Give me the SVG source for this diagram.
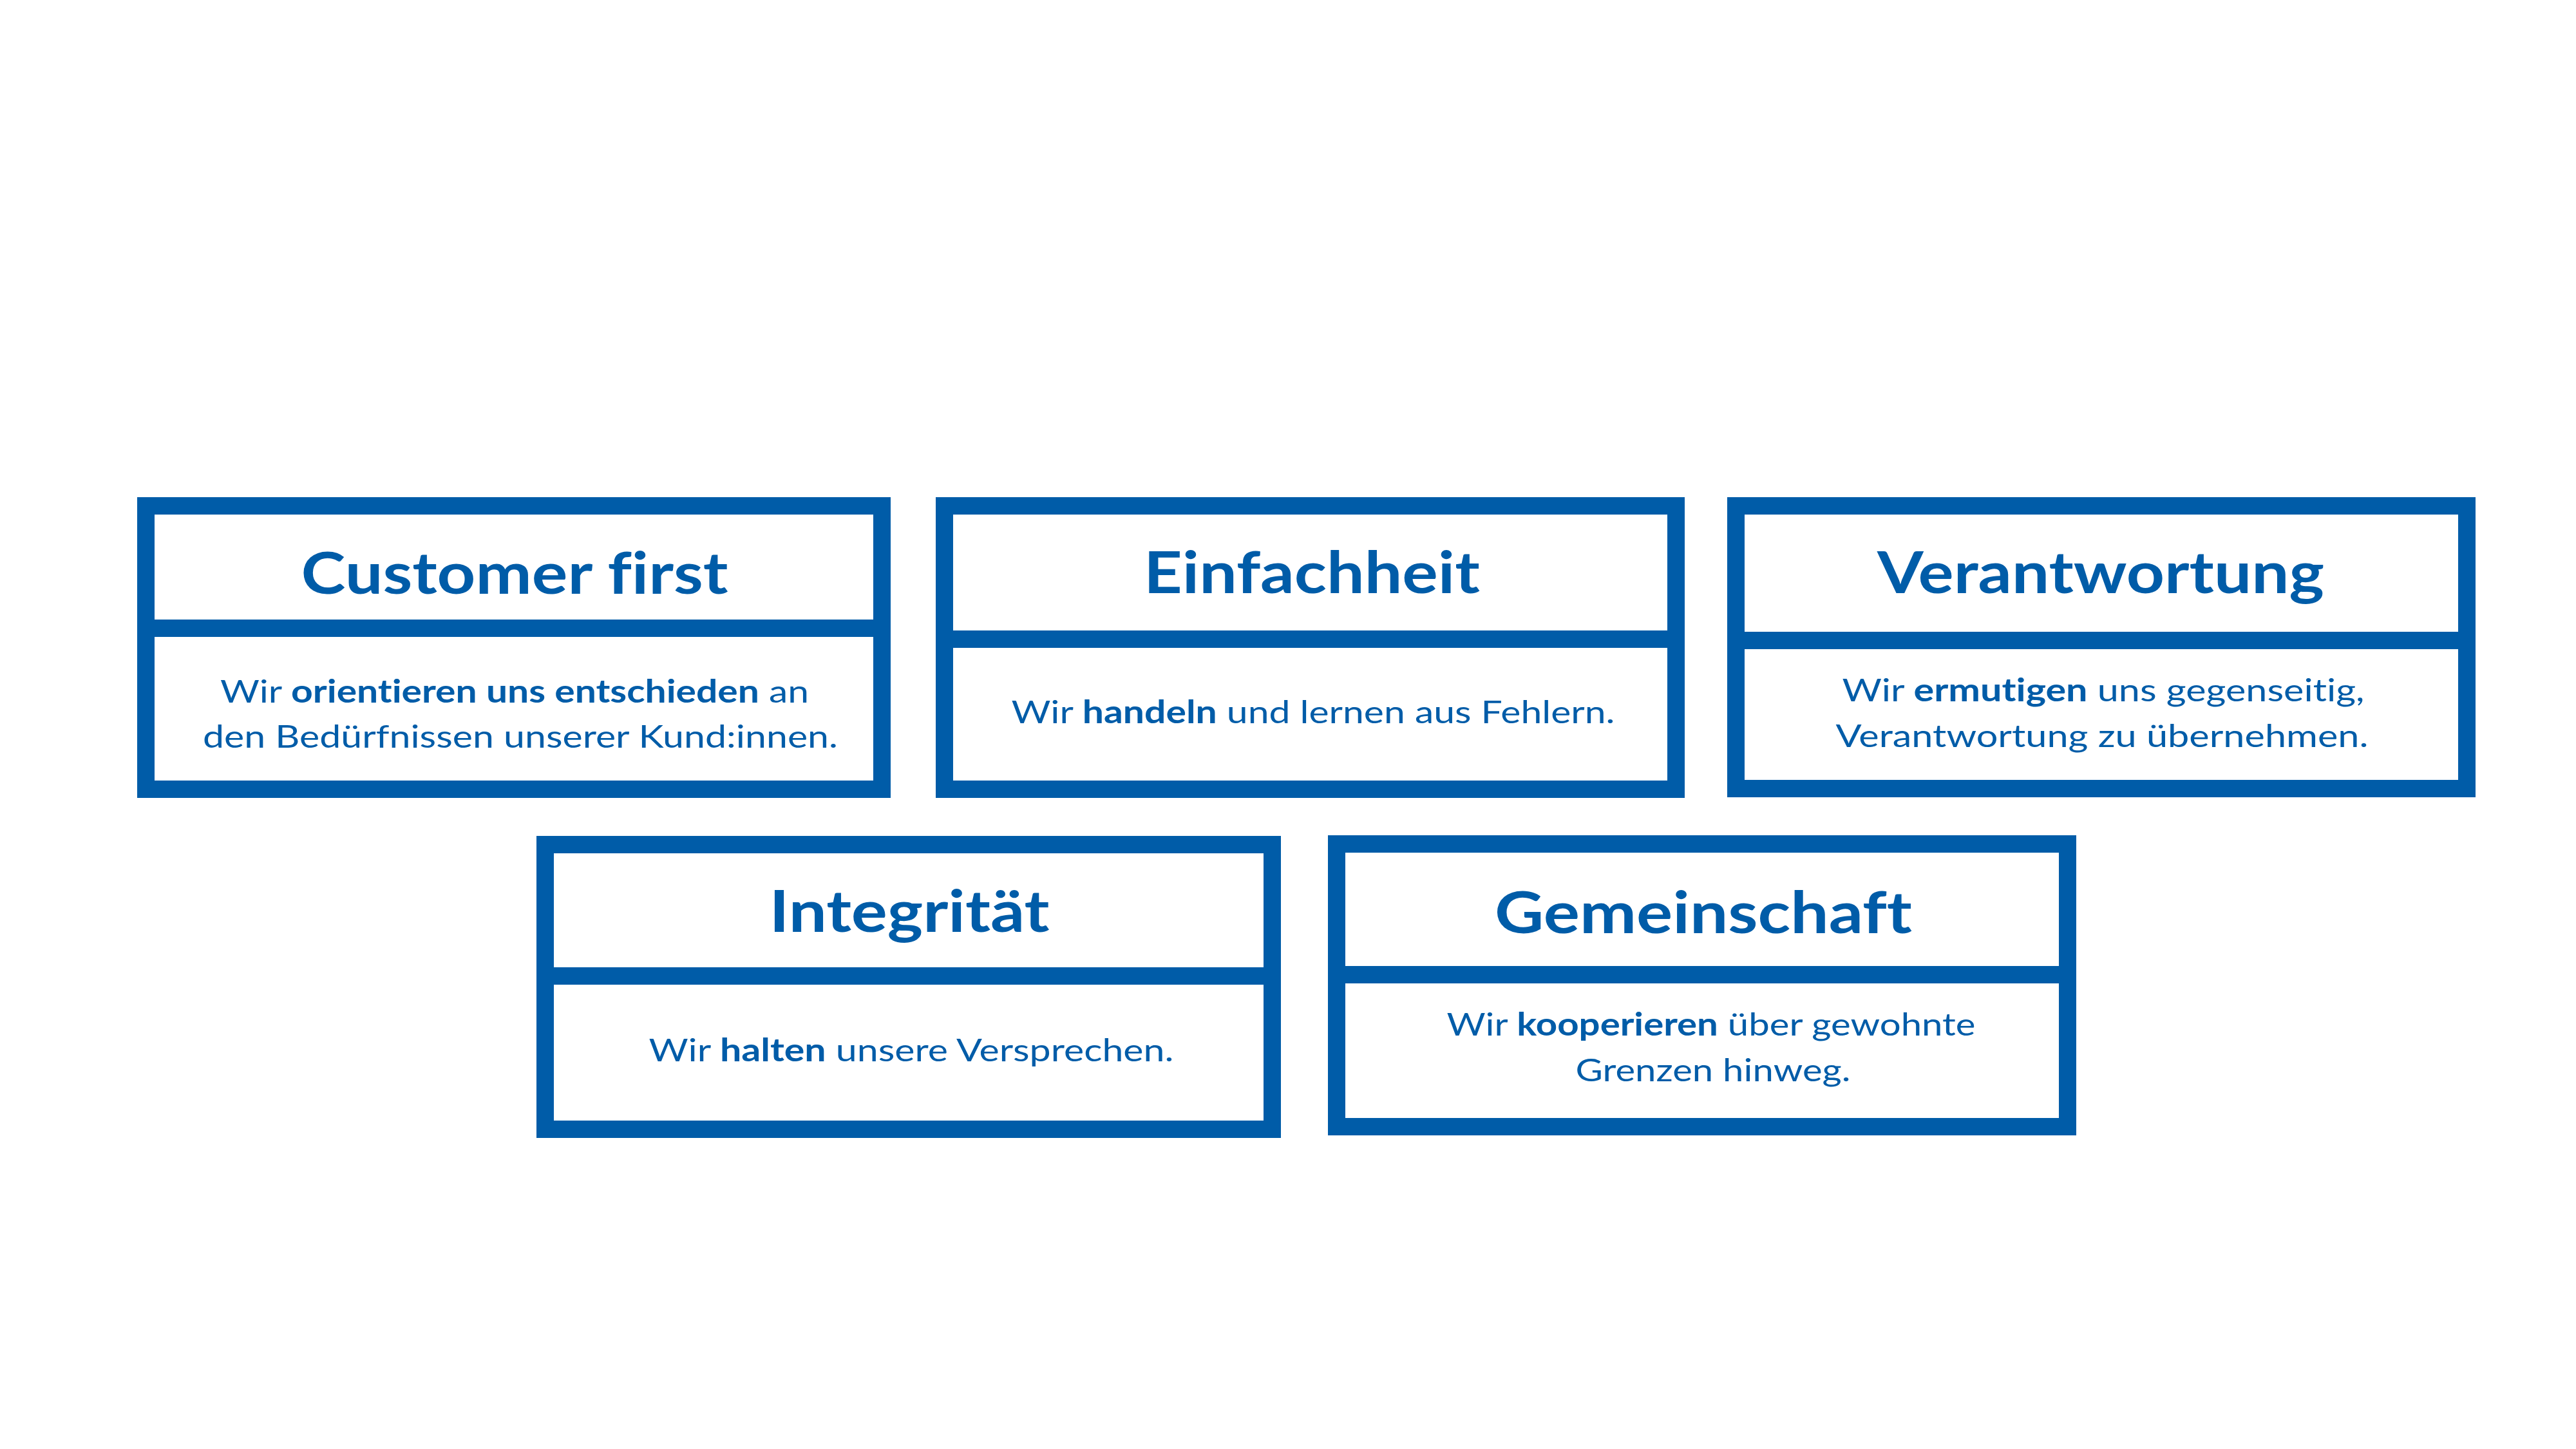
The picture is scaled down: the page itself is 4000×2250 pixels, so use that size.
<svg xmlns="http://www.w3.org/2000/svg" width="4000" height="2250" viewBox="0 0 4000 2250">
<style>
.frame{fill:#ffffff;stroke:#005CA8;stroke-width:27}
.div{fill:#005CA8}
.title{font-family:Lato,"Noto Sans","Liberation Sans",sans-serif;font-weight:700;font-size:89px;fill:#005CA8;text-anchor:middle;font-variant-ligatures:none}
.body{font-family:Lato,"Noto Sans","Liberation Sans",sans-serif;font-weight:400;font-size:49px;fill:#005CA8;text-anchor:middle;font-variant-ligatures:none}
.b{font-weight:700}
</style>
<rect width="4000" height="2250" fill="#ffffff"/>
<g id="customer-first">
<rect class="frame" x="226.5" y="785.5" width="1143" height="440"/>
<rect class="div" x="213" y="962" width="1170" height="27"/>
<text class="title" x="799" y="922" textLength="663" lengthAdjust="spacingAndGlyphs">Customer first</text>
<text class="body" x="799" y="1091" textLength="914" lengthAdjust="spacingAndGlyphs">Wir <tspan class="b">orientieren uns entschieden</tspan> an</text>
<text class="body" x="808" y="1161" textLength="986" lengthAdjust="spacingAndGlyphs">den Bedürfnissen unserer Kund:innen.</text>
</g>
<g id="einfachheit">
<rect class="frame" x="1466.5" y="785.5" width="1136" height="440"/>
<rect class="div" x="1453" y="979" width="1163" height="27"/>
<text class="title" x="2037" y="921" textLength="522" lengthAdjust="spacingAndGlyphs">Einfachheit</text>
<text class="body" x="2039" y="1123" textLength="937" lengthAdjust="spacingAndGlyphs">Wir <tspan class="b">handeln</tspan> und lernen aus Fehlern.</text>
</g>
<g id="verantwortung">
<rect class="frame" x="2695.5" y="785.5" width="1135" height="439"/>
<rect class="div" x="2682" y="981" width="1162" height="27"/>
<text class="title" x="3262" y="921" textLength="694" lengthAdjust="spacingAndGlyphs">Verantwortung</text>
<text class="body" x="3266" y="1089" textLength="811" lengthAdjust="spacingAndGlyphs">Wir <tspan class="b">ermutigen</tspan> uns gegenseitig,</text>
<text class="body" x="3264" y="1160" textLength="827" lengthAdjust="spacingAndGlyphs">Verantwortung zu übernehmen.</text>
</g>
<g id="integritaet">
<rect class="frame" x="846.5" y="1311.5" width="1129" height="442"/>
<rect class="div" x="833" y="1502" width="1156" height="27"/>
<text class="title" x="1412" y="1447" textLength="435" lengthAdjust="spacingAndGlyphs">Integrität</text>
<text class="body" x="1415" y="1648" textLength="815" lengthAdjust="spacingAndGlyphs">Wir <tspan class="b">halten</tspan> unsere Versprechen.</text>
</g>
<g id="gemeinschaft">
<rect class="frame" x="2075.5" y="1310.5" width="1135" height="439"/>
<rect class="div" x="2062" y="1500" width="1162" height="27"/>
<text class="title" x="2645" y="1449" textLength="648" lengthAdjust="spacingAndGlyphs">Gemeinschaft</text>
<text class="body" x="2657" y="1608" textLength="821" lengthAdjust="spacingAndGlyphs">Wir <tspan class="b">kooperieren</tspan> über gewohnte</text>
<text class="body" x="2660" y="1679" textLength="427" lengthAdjust="spacingAndGlyphs">Grenzen hinweg.</text>
</g>
</svg>
